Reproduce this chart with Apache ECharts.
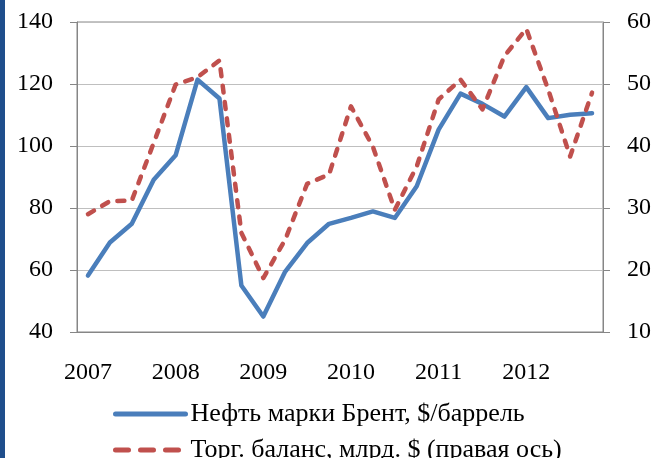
<!DOCTYPE html>
<html>
<head>
<meta charset="utf-8">
<script src="https://cdn.jsdelivr.net/npm/echarts@6/dist/echarts.min.js"></script>
<style>
  html, body { margin: 0; padding: 0; background: #fff; }
  #chart { width: 655px; height: 458px; }
</style>
</head>
<body>
<div id="chart"></div>
<script>
// quarters 2007 Q1 .. 2012 Q4
const quarters = [
  '2007 Q1', '2007 Q2', '2007 Q3', '2007 Q4',
  '2008 Q1', '2008 Q2', '2008 Q3', '2008 Q4',
  '2009 Q1', '2009 Q2', '2009 Q3', '2009 Q4',
  '2010 Q1', '2010 Q2', '2010 Q3', '2010 Q4',
  '2011 Q1', '2011 Q2', '2011 Q3', '2011 Q4',
  '2012 Q1', '2012 Q2', '2012 Q3', '2012 Q4'
];

// Brent, $/bbl (left axis)
const brent = [
  58.2, 68.9, 74.9, 89.1, 97.0, 121.4, 115.3, 55.0,
  45.0, 59.5, 68.7, 74.9, 76.8, 78.9, 76.8, 87.0,
  105.3, 116.9, 113.6, 109.5, 119.0, 109.0, 110.1, 110.6
];

// trade balance, bn $ (right axis)
const tradeBalance = [
  29.0, 31.1, 31.2, 40.5, 49.9, 51.1, 53.8, 26.0,
  18.7, 24.9, 33.9, 35.4, 46.4, 39.9, 29.7, 36.7,
  47.5, 50.7, 45.9, 54.5, 58.9, 49.1, 38.3, 48.6
];

const seriesNames = ['Нефть марки Брент, $/баррель', 'Торг. баланс, млрд. $ (правая ось)'];

const font = '"Liberation Serif", "Times New Roman", serif';
const axisGray = '#868686';
const blue = '#4A7EBB';
const red = '#C0504D';

let myChart = echarts.init(document.getElementById('chart'), null, {renderer: 'canvas'});

const legendBase = {
    left: 113,
    padding: 0,
    itemWidth: 70,
    itemHeight: 14,
    itemStyle: {opacity: 0},
    textStyle: {fontFamily: font, fontSize: 26, color: '#000'}
};

let option = {
    animation: false,
    backgroundColor: '#fff',
    textStyle: {fontFamily: font},
    graphic: [
        {type: 'rect', left: 0, top: 0, shape: {width: 5, height: 458}, style: {fill: '#1F4E8C'}}
    ],
    grid: {
        left: 77, right: 52, top: 22, bottom: 126,
        show: true, borderColor: axisGray, borderWidth: 1
    },
    legend: [
        Object.assign({}, legendBase, {
            top: 401,
            data: [seriesNames[0]],
            lineStyle: {width: 5, cap: 'round'}
        }),
        Object.assign({}, legendBase, {
            top: 437,
            data: [seriesNames[1]],
            lineStyle: {width: 5, type: [13, 12], cap: 'round'}
        })
    ],
    xAxis: {
        type: 'category',
        data: quarters,
        boundaryGap: true,
        axisLine: {lineStyle: {color: axisGray, width: 1}},
        axisTick: {interval: 9, length: 7, lineStyle: {color: axisGray}},
        axisLabel: {
            interval: 3,
            margin: 29,
            fontFamily: font,
            fontSize: 24,
            color: '#000',
            formatter: v => v.slice(0, 4)
        }
    },
    yAxis: [
        {
            type: 'value',
            min: 40, max: 140, interval: 20,
            axisLine: {show: true, lineStyle: {color: axisGray}},
            axisTick: {show: true, length: 7, lineStyle: {color: axisGray}},
            splitLine: {lineStyle: {color: '#BFBFBF'}},
            axisLabel: {margin: 24, fontFamily: font, fontSize: 24, color: '#000'}
        },
        {
            type: 'value',
            min: 10, max: 60, interval: 10,
            axisLine: {show: true, lineStyle: {color: axisGray}},
            axisTick: {show: true, length: 7, lineStyle: {color: axisGray}},
            splitLine: {show: false},
            axisLabel: {margin: 24, fontFamily: font, fontSize: 24, color: '#000'}
        }
    ],
    series: [
        {
            name: seriesNames[0],
            type: 'line',
            yAxisIndex: 0,
            data: brent,
            symbol: 'none',
            color: blue,
            lineStyle: {width: 4.5, color: blue, cap: 'round', join: 'round'}
        },
        {
            name: seriesNames[1],
            type: 'line',
            yAxisIndex: 1,
            data: tradeBalance,
            symbol: 'none',
            color: red,
            lineStyle: {width: 4.5, color: red, type: [7, 9.5], cap: 'round', join: 'round'}
        }
    ]
};

myChart.setOption(option);
</script>
</body>
</html>
